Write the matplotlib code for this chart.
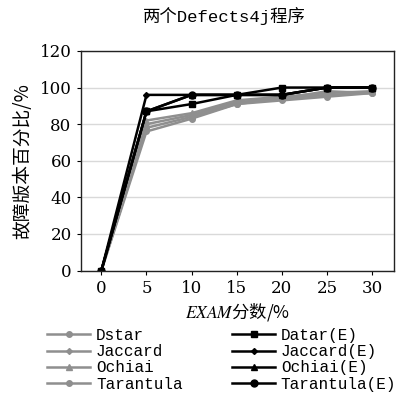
import matplotlib
matplotlib.use("Agg")
import matplotlib.pyplot as plt

# EXAM score categories (%)
exam = [0, 5, 10, 15, 20, 25, 30]

# grey series (original techniques)
dstar = [0, 76, 83, 91, 94, 98, 97]
jaccard = [0, 80, 85, 92, 94, 96, 97]
ochiai = [0, 82, 86, 93, 95, 97, 98]
tarantula = [0, 78, 84, 91, 93, 95, 97]

# black series (enhanced techniques)
datar_e = [0, 87, 91, 96, 100, 100, 100]
jaccard_e = [0, 96, 96, 96, 96, 100, 100]
ochiai_e = [0, 87, 96, 96, 96, 100, 100]
tarantula_e = [0, 87, 96, 96, 96, 100, 100]

grey_names = ["Dstar", "Jaccard", "Ochiai", "Tarantula"]
black_names = ["Datar(E)", "Jaccard(E)", "Ochiai(E)", "Tarantula(E)"]
y_ticks = [0, 20, 40, 60, 80, 100, 120]

plt.rcParams["mathtext.fontset"] = "stix"

cjk = ["Noto Sans CJK SC", "DejaVu Sans"]
mono = ["Liberation Mono", "Noto Sans CJK SC"]
serif = ["DejaVu Serif"]

fig = plt.figure(figsize=(4.01, 3.95), dpi=100)
ax = fig.add_axes([0.201, 0.315, 0.781, 0.556])

grey = "#8f8f8f"
grey_series = [dstar, jaccard, ochiai, tarantula]
grey_markers = ["o", "D", "^", "o"]
grey_sizes = [4, 3, 4, 4]
black_series = [datar_e, jaccard_e, ochiai_e, tarantula_e]
black_markers = ["s", "D", "^", "o"]
black_sizes = [5, 3, 4, 5]

handles = []
for vals, m, ms, name in zip(grey_series, grey_markers, grey_sizes, grey_names):
    h, = ax.plot(exam, vals, color=grey, lw=1.8, marker=m, ms=ms, label=name)
    handles.append(h)
for vals, m, ms, name in zip(black_series, black_markers, black_sizes, black_names):
    h, = ax.plot(exam, vals, color="black", lw=1.8, marker=m, ms=ms, label=name)
    handles.append(h)

ax.set_xlim(-2.3, 32.4)
ax.set_ylim(0, 120)
ax.set_xticks(exam)
ax.set_yticks(y_ticks)
ax.yaxis.grid(True, color="#d9d9d9", lw=1)
ax.set_axisbelow(True)
for s in ax.spines.values():
    s.set_color("#222222")
    s.set_linewidth(1.0)
ax.tick_params(direction="out", length=3, width=0.8, labelsize=12)
for lab in ax.get_xticklabels() + ax.get_yticklabels():
    lab.set_family(serif)

fig.text(224 / 401, 1 - 16 / 395, "两个Defects4j程序", family=mono,
         fontsize=12.5, ha="center", va="center")
ax.set_ylabel("故障版本百分比/%", family=cjk, fontsize=13.5, labelpad=5)
ax.set_xlabel(r"$\mathit{EXAM}$分数/%", family=cjk, fontsize=12.5, labelpad=3)

fig.legend(handles=handles, loc="lower center", bbox_to_anchor=(0.553, -0.008),
           ncol=2, frameon=False, prop={"family": mono, "size": 11.5},
           handlelength=2.7, handletextpad=0.35, labelspacing=0.08,
           columnspacing=3.1, borderaxespad=0.0)

fig.savefig("out.png", dpi=100)
